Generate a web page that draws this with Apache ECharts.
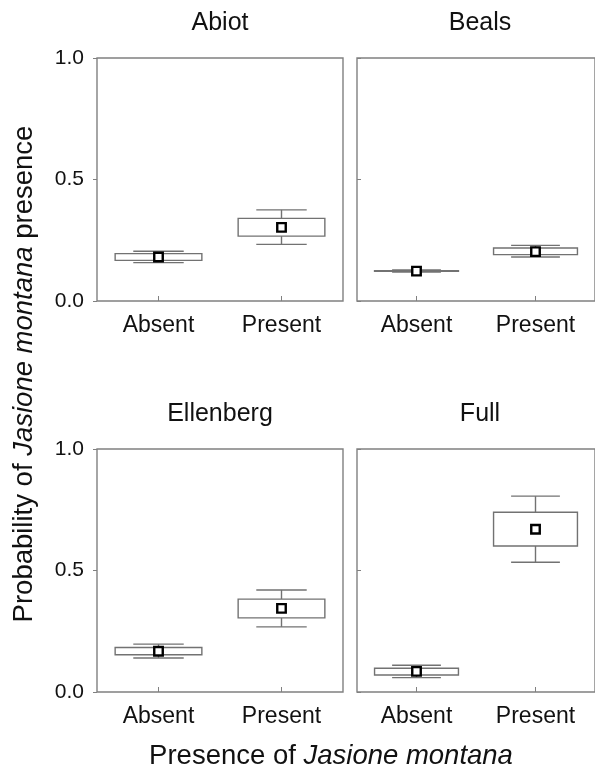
<!DOCTYPE html>
<html>
<head>
<meta charset="utf-8">
<script src="https://cdn.jsdelivr.net/npm/echarts@6/dist/echarts.min.js"></script>
<style>
  html, body { margin: 0; padding: 0; background: #fff; }
  #chart { width: 595px; height: 777px; }
</style>
</head>
<body>
<div id="chart"></div>
<script>
const FONT = "'Liberation Sans', Arial, sans-serif";

const categories = ["Absent", "Present"];
const panelTitles = ["Abiot", "Beals", "Ellenberg", "Full"];

// per panel: [Absent, Present]
const whiskerLow  = [[0.158, 0.233], [0.119, 0.181], [0.140, 0.268], [0.059, 0.534]];
const boxLow      = [[0.167, 0.267], [0.122, 0.191], [0.153, 0.305], [0.070, 0.601]];
const boxHigh     = [[0.195, 0.340], [0.125, 0.218], [0.183, 0.382], [0.098, 0.740]];
const whiskerHigh = [[0.205, 0.375], [0.128, 0.229], [0.197, 0.420], [0.110, 0.806]];
const means       = [[0.181, 0.303], [0.123, 0.203], [0.168, 0.344], [0.085, 0.670]];

const yTicks = [0, 0.5, 1];

const panels = [
    { left: 97,  top: 58,  width: 246, height: 243 },
    { left: 357, top: 58,  width: 246, height: 243 },
    { left: 97,  top: 449, width: 246, height: 243 },
    { left: 357, top: 449, width: 246, height: 243 },
];

const lineColor = "#727272";

function renderBox(params, api) {
    const x = api.value(0);
    const pLow = api.coord([x, api.value(1)]);
    const pQ1 = api.coord([x, api.value(2)]);
    const pQ3 = api.coord([x, api.value(3)]);
    const pHigh = api.coord([x, api.value(4)]);
    const band = api.size([1, 0])[0];
    const boxW = band * 0.705;
    const capW = band * 0.41;
    const cx = pLow[0];
    const style = { stroke: lineColor, fill: "none", lineWidth: 1.4 };
    return {
        type: "group",
        children: [
            { type: "line", shape: { x1: cx, y1: pHigh[1], x2: cx, y2: pQ3[1] }, style },
            { type: "line", shape: { x1: cx, y1: pQ1[1], x2: cx, y2: pLow[1] }, style },
            { type: "line", shape: { x1: cx - capW / 2, y1: pHigh[1], x2: cx + capW / 2, y2: pHigh[1] }, style },
            { type: "line", shape: { x1: cx - capW / 2, y1: pLow[1], x2: cx + capW / 2, y2: pLow[1] }, style },
            {
                type: "rect",
                shape: { x: cx - boxW / 2, y: pQ3[1], width: boxW, height: pQ1[1] - pQ3[1] },
                style: { stroke: lineColor, fill: "#fff", lineWidth: 1.4 },
            },
        ],
    };
}

const grid = panels.map(p => ({
    left: p.left, top: p.top, width: p.width, height: p.height,
    show: true, borderColor: "#808080", borderWidth: 1.4, backgroundColor: "#fff",
}));

const xAxis = panels.map((p, i) => ({
    type: "category",
    gridIndex: i,
    data: categories,
    axisLine: { show: false },
    axisTick: { show: true, inside: true, length: 5, alignWithLabel: true, lineStyle: { color: "#808080" } },
    axisLabel: { color: "#111", fontSize: 23, fontFamily: FONT, margin: 13 },
    splitLine: { show: false },
}));

const yAxis = panels.map((p, i) => ({
    type: "value",
    gridIndex: i,
    min: yTicks[0],
    max: yTicks[yTicks.length - 1],
    interval: 0.5,
    axisLine: { show: false },
    axisTick: { show: true, inside: i % 2 === 1, length: 4, lineStyle: { color: "#808080" } },
    axisLabel: {
        show: i % 2 === 0,
        color: "#111", fontSize: 21, fontFamily: FONT, margin: 13,
        formatter: v => v.toFixed(1),
    },
    splitLine: { show: false },
}));

const series = [];
panels.forEach((p, i) => {
    series.push({
        type: "custom",
        xAxisIndex: i,
        yAxisIndex: i,
        renderItem: renderBox,
        encode: { x: 0, y: [1, 2, 3, 4] },
        data: categories.map((c, k) => [k, whiskerLow[i][k], boxLow[i][k], boxHigh[i][k], whiskerHigh[i][k]]),
        z: 2,
    });
    series.push({
        type: "scatter",
        xAxisIndex: i,
        yAxisIndex: i,
        symbol: "rect",
        symbolSize: 8.5,
        itemStyle: { color: "#fff", borderColor: "#000", borderWidth: 2.4, opacity: 1 },
        data: categories.map((c, k) => [k, means[i][k]]),
        z: 5,
    });
});

const titleY = [23, 23, 414, 414];
const graphic = panels.map((p, i) => ({
    type: "text",
    x: p.left + 123,
    y: titleY[i],
    style: {
        text: panelTitles[i],
        font: "25px " + FONT,
        fill: "#111",
        textAlign: "center",
        textVerticalAlign: "middle",
    },
}));

graphic.push({
    type: "text",
    x: 331,
    y: 756,
    style: {
        text: "{n|Presence of }{i|Jasione montana}",
        textAlign: "center",
        textVerticalAlign: "middle",
        rich: {
            n: { fontSize: 27.5, fontFamily: FONT, fill: "#111" },
            i: { fontSize: 27.5, fontFamily: FONT, fontStyle: "italic", fill: "#111" },
        },
    },
});

graphic.push({
    type: "text",
    x: 24,
    y: 374,
    rotation: Math.PI / 2,
    style: {
        text: "{n|Probability of }{i|Jasione montana}{n| presence}",
        textAlign: "center",
        textVerticalAlign: "middle",
        rich: {
            n: { fontSize: 27.5, fontFamily: FONT, fill: "#111" },
            i: { fontSize: 27.5, fontFamily: FONT, fontStyle: "italic", fill: "#111" },
        },
    },
});

const chart = echarts.init(document.getElementById("chart"));
chart.setOption({
    animation: false,
    backgroundColor: "#fff",
    grid,
    xAxis,
    yAxis,
    series,
    graphic,
});
</script>
</body>
</html>
